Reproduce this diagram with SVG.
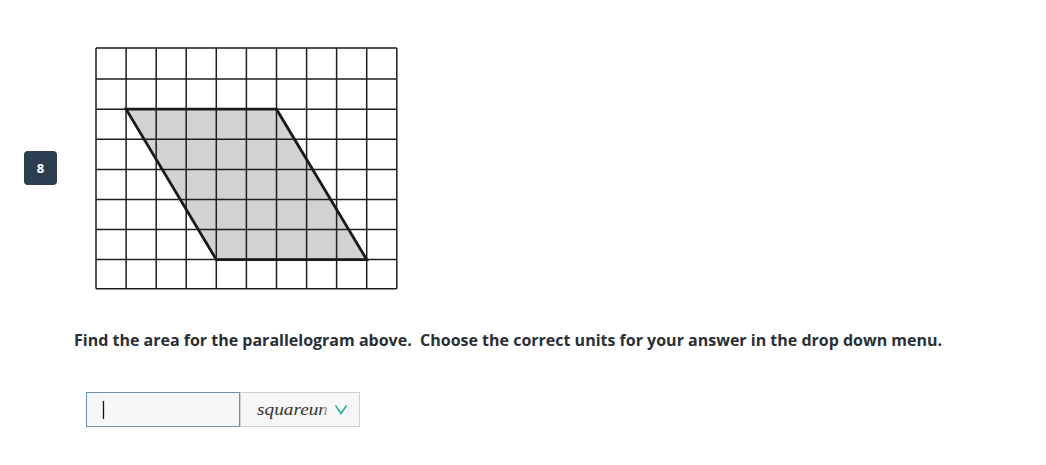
<svg xmlns="http://www.w3.org/2000/svg" width="1046" height="465" viewBox="0 0 1046 465">
<style>
.grid{stroke:#1e1e1e;stroke-width:1.5;fill:none}
.prompt{font-family:"Open Sans","Liberation Sans",sans-serif;font-weight:700;font-size:16px;fill:#2a2f36;white-space:pre}
</style>
<rect width="1046" height="465" fill="#ffffff"/>
<g id="badge">
<rect x="24" y="151" width="33" height="34" rx="4" fill="#2c3e50"/>
<text x="40.5" y="173" text-anchor="middle" font-family="Open Sans, Liberation Sans, sans-serif" font-weight="700" font-size="13" fill="#ffffff">8</text>
</g>
<g id="figure">
<polygon points="126.1,109.2 276.5,109.2 366.7,259.6 216.3,259.6" fill="#d1d2d4"/>
<g class="grid">
<path d="M96,48.1V288.7M126.1,48.1V288.7M156.2,48.1V288.7M186.2,48.1V288.7M216.3,48.1V288.7M246.4,48.1V288.7M276.5,48.1V288.7M306.6,48.1V288.7M336.6,48.1V288.7M366.7,48.1V288.7M396.8,48.1V288.7"/>
<path d="M96,48.1H396.8M96,79.1H396.8M96,109.2H396.8M96,139.3H396.8M96,169.4H396.8M96,199.4H396.8M96,229.5H396.8M96,259.6H396.8M96,288.7H396.8"/>
</g>
<polygon points="126.1,109.2 276.5,109.2 366.7,259.6 216.3,259.6" fill="none" stroke="#1a1a1a" stroke-width="2.8" stroke-linejoin="miter"/>
</g>
<g id="prompt">
<text class="prompt" x="74" y="345.5" xml:space="preserve">Find the area for the parallelogram above.  Choose the correct units for your answer in the drop down menu.</text>
</g>
<g id="answer">
<rect x="86.5" y="392.5" width="153" height="34" fill="#f5f7f9" stroke="#6e8fae" stroke-width="1"/>
<line x1="103.5" y1="401" x2="103.5" y2="419" stroke="#111" stroke-width="1.3"/>
</g>
<g id="dropdown">
<defs>
<linearGradient id="fade" gradientUnits="userSpaceOnUse" x1="257" y1="0" x2="329" y2="0">
<stop offset="0.88" stop-color="#333" stop-opacity="1"/>
<stop offset="1" stop-color="#333" stop-opacity="0.15"/>
</linearGradient>
</defs>
<rect x="240.5" y="392.5" width="119" height="34" fill="#f7f7f7" stroke="#cfcfcf" stroke-width="1"/>
<text x="257" y="415" font-family="Liberation Serif, serif" font-style="italic" font-size="17" textLength="71" lengthAdjust="spacingAndGlyphs" fill="url(#fade)">squareun</text>
<polyline points="335.5,405.5 341,413.5 346.5,405.5" fill="none" stroke="#2bb39a" stroke-width="1.6"/>
</g>
</svg>
